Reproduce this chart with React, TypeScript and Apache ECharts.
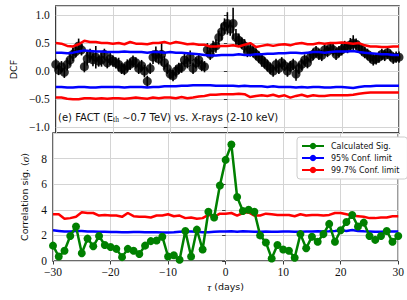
import React, { useEffect, useRef } from "react";
import * as echarts from "echarts";

// Lags (days)
const dcfLags = Array.from({ length: 121 }, (_, i) => -30 + i * 0.5);
const lags = Array.from({ length: 61 }, (_, i) => -30 + i);

// Top panel: DCF values and errors (0.5-day bins)
const dcfValues = [
  0.12, 0.02, 0.08, -0.02, 0.12, 0.2, 0.3, 0.35, 0.45, 0.38,
  0.08, 0.22, 0.3, 0.2, 0.25, 0.18, 0.2, 0.3, 0.15, 0.22,
  0.18, 0.15, 0.12, 0.05, 0.03, 0.1, 0.12, 0.18, 0.15, 0.05,
  0.1, 0.0, -0.18, 0.05, 0.25, 0.3, 0.22, 0.3, 0.15, 0.05,
  -0.05, -0.08, 0.0, 0.05, 0.07, 0.2, 0.15, 0.25, 0.05, 0.15,
  0.2, 0.1, 0.08, 0.38, 0.3, 0.42, 0.45, 0.6, 0.7, 0.8,
  0.85, 0.75, 0.85, 0.6, 0.55, 0.5, 0.45, 0.35, 0.38, 0.35,
  0.3, 0.25, 0.2, 0.15, 0.1, 0.05, 0.0, 0.12, 0.05, 0.15,
  0.1, 0.0, 0.08, 0.12, -0.05, 0.05, 0.12, 0.2, 0.15, 0.25,
  0.3, 0.35, 0.3, 0.28, 0.38, 0.35, 0.42, 0.38, 0.3, 0.35,
  0.38, 0.44, 0.42, 0.47, 0.5, 0.48, 0.43, 0.38, 0.33, 0.3,
  0.25, 0.2, 0.22, 0.25, 0.3, 0.28, 0.33, 0.28, 0.23, 0.25, 0.25,
];
const dcfErrors = [
  0.1, 0.09, 0.1, 0.1, 0.11, 0.1, 0.12, 0.1, 0.13, 0.1,
  0.1, 0.12, 0.1, 0.11, 0.2, 0.1, 0.12, 0.1, 0.1, 0.11,
  0.1, 0.1, 0.12, 0.1, 0.1, 0.11, 0.1, 0.1, 0.1, 0.1,
  0.1, 0.11, 0.1, 0.1, 0.12, 0.14, 0.1, 0.2, 0.12, 0.1,
  0.1, 0.1, 0.1, 0.1, 0.1, 0.12, 0.1, 0.12, 0.1, 0.1,
  0.12, 0.1, 0.1, 0.12, 0.1, 0.12, 0.12, 0.12, 0.15, 0.14,
  0.2, 0.12, 0.28, 0.15, 0.12, 0.1, 0.12, 0.1, 0.12, 0.1,
  0.1, 0.1, 0.12, 0.1, 0.1, 0.1, 0.1, 0.1, 0.1, 0.1,
  0.1, 0.1, 0.1, 0.1, 0.12, 0.1, 0.1, 0.1, 0.1, 0.1,
  0.1, 0.1, 0.1, 0.1, 0.1, 0.1, 0.1, 0.1, 0.1, 0.1,
  0.1, 0.1, 0.1, 0.12, 0.14, 0.1, 0.1, 0.1, 0.1, 0.1,
  0.1, 0.1, 0.1, 0.1, 0.1, 0.1, 0.1, 0.1, 0.1, 0.1, 0.1,
];

// Top panel: confidence limits (1-day)
const dcf997Upper = [
  0.5, 0.49, 0.45, 0.44, 0.48, 0.54, 0.52, 0.52, 0.5, 0.5,
  0.49, 0.5, 0.48, 0.52, 0.49, 0.49, 0.48, 0.5, 0.5, 0.52,
  0.49, 0.52, 0.5, 0.48, 0.49, 0.47, 0.47, 0.44, 0.44, 0.45,
  0.45, 0.46, 0.44, 0.47, 0.5, 0.43, 0.45, 0.47, 0.45, 0.47,
  0.48, 0.46, 0.49, 0.5, 0.48, 0.48, 0.5, 0.49, 0.5, 0.5,
  0.51, 0.5, 0.49, 0.5, 0.46, 0.44, 0.44, 0.43, 0.43, 0.44, 0.44,
];
const dcf95Upper = [
  0.33, 0.33, 0.32, 0.33, 0.35, 0.37, 0.36, 0.35, 0.35, 0.34,
  0.34, 0.34, 0.35, 0.34, 0.34, 0.34, 0.33, 0.34, 0.34, 0.33,
  0.34, 0.33, 0.33, 0.32, 0.31, 0.3, 0.29, 0.28, 0.28, 0.29,
  0.29, 0.29, 0.3, 0.29, 0.29, 0.3, 0.3, 0.31, 0.31, 0.32,
  0.32, 0.33, 0.33, 0.32, 0.33, 0.34, 0.34, 0.33, 0.34, 0.35,
  0.35, 0.35, 0.36, 0.34, 0.33, 0.32, 0.31, 0.3, 0.3, 0.29, 0.29,
];
const dcf95Lower = [
  -0.28, -0.28, -0.29, -0.29, -0.28, -0.28, -0.29, -0.29, -0.28, -0.28,
  -0.28, -0.28, -0.29, -0.28, -0.28, -0.28, -0.29, -0.28, -0.28, -0.27,
  -0.27, -0.27, -0.26, -0.26, -0.25, -0.25, -0.25, -0.25, -0.26, -0.26,
  -0.26, -0.26, -0.27, -0.26, -0.27, -0.27, -0.27, -0.28, -0.27, -0.28,
  -0.28, -0.28, -0.29, -0.28, -0.29, -0.28, -0.28, -0.29, -0.29, -0.28,
  -0.28, -0.29, -0.3, -0.28, -0.27, -0.27, -0.26, -0.26, -0.26, -0.26, -0.26,
];
const dcf997Lower = [
  -0.47, -0.47, -0.49, -0.5, -0.5, -0.48, -0.48, -0.49, -0.48, -0.49,
  -0.48, -0.48, -0.49, -0.48, -0.47, -0.48, -0.49, -0.47, -0.48, -0.47,
  -0.47, -0.48, -0.46, -0.48, -0.47, -0.45, -0.44, -0.42, -0.42, -0.41,
  -0.41, -0.41, -0.4, -0.41, -0.46, -0.44, -0.43, -0.44, -0.42, -0.45,
  -0.43, -0.47, -0.44, -0.42, -0.45, -0.43, -0.44, -0.44, -0.43, -0.43,
  -0.43, -0.43, -0.42, -0.4, -0.39, -0.38, -0.38, -0.38, -0.38, -0.38, -0.38,
];

// Bottom panel: correlation significance (sigma)
const sigValues = [
  1.2, 0.35, 0.8, 1.95, 2.7, 0.6, 1.75, 1.15, 1.95, 1.25,
  1.1, 0.95, 0.3, 0.95, 0.8, 0.55, 1.2, 1.55, 1.6, 1.9,
  0.35, 0.45, 0.1, 2.35, 0.35, 2.45, 0.9, 3.85, 3.4, 5.9,
  7.9, 9.1, 5.0, 3.9, 4.0, 3.85, 2.0, 1.45, 0.2, 1.25,
  0.9, 0.8, 0.25, 2.1, 1.0, 1.9, 1.5, 2.1, 2.9, 1.5,
  2.4, 3.05, 3.6, 2.7, 3.0, 1.95, 1.65, 1.95, 2.35, 1.5, 1.95,
];
const sig95 = [
  2.4, 2.35, 2.3, 2.3, 2.35, 2.35, 2.3, 2.3, 2.28, 2.28,
  2.27, 2.27, 2.25, 2.25, 2.27, 2.27, 2.25, 2.25, 2.25, 2.23,
  2.23, 2.25, 2.28, 2.3, 2.3, 2.28, 2.25, 2.25, 2.28, 2.3,
  2.3, 2.32, 2.28, 2.32, 2.3, 2.28, 2.28, 2.3, 2.28, 2.28,
  2.3, 2.3, 2.28, 2.28, 2.3, 2.3, 2.32, 2.3, 2.32, 2.35,
  2.4, 2.35, 2.42, 2.35, 2.32, 2.3, 2.28, 2.28, 2.3, 2.3, 2.3,
];
const sig997 = [
  3.65, 3.65, 3.3, 3.35, 3.45, 3.8, 3.75, 3.75, 3.55, 3.6,
  3.55, 3.55, 3.45, 3.75, 3.5, 3.45, 3.45, 3.4, 3.55, 3.55,
  3.65, 3.5, 3.55, 3.35, 3.4, 3.3, 3.35, 3.6, 3.45, 3.7,
  3.7, 3.75, 3.55, 3.75, 3.8, 3.55, 3.55, 3.7, 3.65, 3.6,
  3.6, 3.6, 3.5, 3.65, 3.55, 3.6, 3.6, 3.55, 3.6, 3.75,
  3.75, 3.65, 3.55, 3.5, 3.45, 3.35, 3.35, 3.4, 3.4, 3.5, 3.5,
];

const topTicks = [-1, -0.5, 0, 0.5, 1];
const legendNames = ["Calculated Sig.", "95% Conf. limit", "99.7% Conf. limit"];

const pair = (xs: number[], ys: number[]) => xs.map((x, i) => [x, ys[i]]);
const fmtNum = (v: number, d: number) => (v < 0 ? "\u2212" + Math.abs(v).toFixed(d) : v.toFixed(d));

const SERIF = "Liberation Serif";
const SANS = "DejaVu Sans";
const FRAME = "#3a3a3a";
const GRIDC = "#d4d4d4";
const BLUE = "#0000ff";
const RED = "#ff0000";
const GREEN = "#008000";

function buildOption(): any {
  const tickLabel = { fontFamily: SERIF, fontSize: 11.5, color: "#111" };
  const confLine = (name: string, color: string, data: number[][], xi: number, z: number) => ({
    type: "line",
    name,
    xAxisIndex: xi,
    yAxisIndex: xi,
    data,
    symbol: "none",
    showSymbol: false,
    lineStyle: { color, width: 2.5 },
    itemStyle: { color },
    z,
    silent: true,
  });
  return {
    animation: false,
    grid: [
      { left: 53, top: 6, width: 346, height: 127, show: true, borderColor: FRAME, borderWidth: 1.5, backgroundColor: "transparent" },
      { left: 53, top: 133, width: 346, height: 128, show: true, borderColor: FRAME, borderWidth: 1.5, backgroundColor: "transparent" },
    ],
    xAxis: [
      {
        gridIndex: 0, type: "value", min: -30, max: 30, interval: 10,
        axisLine: { show: false }, axisTick: { show: false }, axisLabel: { show: false },
        splitLine: { show: true, lineStyle: { color: GRIDC, width: 1 } },
      },
      {
        gridIndex: 1, type: "value", min: -30, max: 30, interval: 10,
        axisLine: { show: false },
        axisTick: { show: true, length: 3.5, lineStyle: { color: FRAME, width: 1 } },
        axisLabel: { ...tickLabel, margin: 5, formatter: (v: number) => fmtNum(v, 0) },
        splitLine: { show: true, lineStyle: { color: GRIDC, width: 1 } },
        name: "{t|\u03c4} (days)",
        nameLocation: "middle",
        nameGap: 20,
        nameTextStyle: {
          fontFamily: SANS, fontSize: 9.5, color: "#111",
          rich: { t: { fontFamily: SERIF, fontStyle: "italic", fontSize: 11, color: "#111" } },
        },
      },
    ],
    yAxis: [
      {
        gridIndex: 0, type: "value", min: -1.1, max: 1.16, minInterval: 0.5, maxInterval: 0.5,
        axisLine: { show: false },
        axisTick: { show: true, length: 3.5, lineStyle: { color: FRAME, width: 1 } },
        axisLabel: {
          ...tickLabel, margin: 6, showMinLabel: false, showMaxLabel: false,
          formatter: (v: number) => (topTicks.some((t) => Math.abs(t - v) < 1e-6) ? fmtNum(v, 1) : ""),
        },
        splitLine: { show: true, lineStyle: { color: GRIDC, width: 1 } },
        name: "DCF",
        nameLocation: "middle",
        nameGap: 34,
        nameTextStyle: { fontFamily: SANS, fontSize: 9.5, color: "#111" },
      },
      {
        gridIndex: 1, type: "value", min: 0, max: 10, interval: 2,
        axisLine: { show: false },
        axisTick: { show: true, length: 3.5, lineStyle: { color: FRAME, width: 1 } },
        axisLabel: { ...tickLabel, margin: 6, showMaxLabel: false, formatter: (v: number) => (v >= 10 ? "" : String(v)) },
        splitLine: { show: true, lineStyle: { color: GRIDC, width: 1 } },
        name: "Correlation sig. ({s|\u03c3})",
        nameLocation: "middle",
        nameGap: 19,
        nameTextStyle: {
          fontFamily: SANS, fontSize: 9.5, color: "#111",
          rich: { s: { fontFamily: SERIF, fontStyle: "italic", fontSize: 11, color: "#111" } },
        },
      },
    ],
    legend: {
      data: legendNames,
      orient: "vertical",
      left: 297,
      top: 137,
      padding: [5, 8, 5, 4],
      itemGap: 4,
      itemWidth: 22,
      itemHeight: 8,
      backgroundColor: "#ffffff",
      borderColor: "#cccccc",
      borderWidth: 1,
      borderRadius: 3,
      selectedMode: false,
      textStyle: { fontFamily: SANS, fontSize: 8, color: "#111", padding: [0, 0, 0, 2] },
    },
    graphic: [
      {
        type: "text",
        left: 58,
        top: 112,
        z: 10,
        style: {
          text: "(e) FACT (E{sub|th} \u223c0.7 TeV) vs. X-rays (2-10 keV)",
          fontFamily: SANS,
          fontSize: 10,
          fill: "#111",
          rich: { sub: { fontFamily: SERIF, fontSize: 7.5, fill: "#111", padding: [5, 0, 0, 0] } },
        },
      },
    ],
    series: [
      {
        type: "custom",
        xAxisIndex: 0,
        yAxisIndex: 0,
        silent: true,
        z: 2,
        encode: { x: 0, y: [1, 2] },
        data: dcfLags.map((x, i) => [x, dcfValues[i] - dcfErrors[i], dcfValues[i] + dcfErrors[i]]),
        renderItem: (params: any, api: any) => {
          const x = api.value(0);
          const a = api.coord([x, api.value(1)]);
          const b = api.coord([x, api.value(2)]);
          return {
            type: "line",
            shape: { x1: a[0], y1: a[1], x2: b[0], y2: b[1] },
            style: { stroke: "#000", lineWidth: 1.6 },
          };
        },
      },
      {
        type: "scatter",
        xAxisIndex: 0,
        yAxisIndex: 0,
        data: pair(dcfLags, dcfValues),
        symbol: "circle",
        symbolSize: 9,
        itemStyle: { color: "#000" },
        silent: true,
        z: 3,
      },
      confLine("95% Conf. limit", BLUE, pair(lags, dcf95Upper), 0, 4),
      confLine("95% Conf. limit", BLUE, pair(lags, dcf95Lower), 0, 4),
      confLine("99.7% Conf. limit", RED, pair(lags, dcf997Upper), 0, 4),
      confLine("99.7% Conf. limit", RED, pair(lags, dcf997Lower), 0, 4),
      confLine("95% Conf. limit", BLUE, pair(lags, sig95), 1, 3),
      confLine("99.7% Conf. limit", RED, pair(lags, sig997), 1, 3),
      {
        type: "line",
        name: "Calculated Sig.",
        xAxisIndex: 1,
        yAxisIndex: 1,
        data: pair(lags, sigValues),
        symbol: "circle",
        symbolSize: 8,
        showSymbol: true,
        lineStyle: { color: GREEN, width: 2.5 },
        itemStyle: { color: GREEN, borderWidth: 0 },
        silent: true,
        z: 5,
      },
    ],
  };
}

export default function App() {
  const ref = useRef<HTMLDivElement>(null);
  useEffect(() => {
    if (!ref.current) return;
    const chart = echarts.init(ref.current, undefined, { renderer: "svg" });
    chart.setOption(buildOption());
    return () => chart.dispose();
  }, []);
  return <div ref={ref} style={{ position: "absolute", left: 0, top: 0, width: 407, height: 300 }} />;
}
